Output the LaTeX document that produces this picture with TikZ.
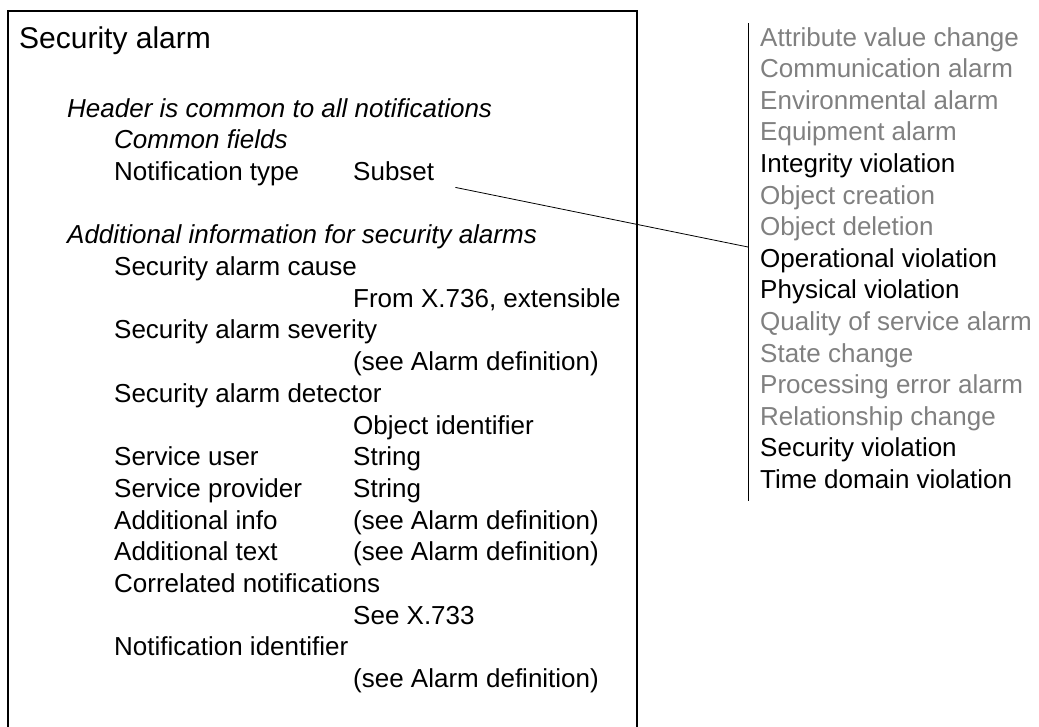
\documentclass[tikz,border=0pt]{standalone}
\usepackage{fontspec}
\setmainfont{Liberation Sans}
\begin{document}
\begin{tikzpicture}[x=1pt,y=-1pt,
  frame/.style={draw=black,line width=1.4pt},
  title/.style={anchor=base west,inner sep=0pt,font=\fontsize{30}{34}\selectfont},
  row/.style={anchor=base west,inner sep=0pt,font=\fontsize{26}{30}\selectfont},
  hdr/.style={row,font=\fontsize{26}{30}\selectfont\itshape},
  item/.style={anchor=base west,inner sep=0pt,font=\fontsize{26}{30}\selectfont,text=black},
  dim/.style={item,text=black!50},
  link/.style={draw=black,line width=0.8pt}]
\useasboundingbox (0,0) rectangle (1039,726);
% outer frame of the notification, open at the bottom
\draw[frame] (8,740) -- (8,11) -- (637,11) -- (637,740);
\node[title] (t) at (19,48) {Security alarm};
% left column: one row every 31.7pt
\def\rowy#1{117+31.7*#1}
\node[hdr] (h1) at (67,{\rowy{0}}) {Header is common to all notifications};
\node[hdr] (h2) at (114,{\rowy{1}}) {Common fields};
\node[row] (r1) at (114,{\rowy{2}}) {Notification type};
\node[row] (subset) at (353,{\rowy{2}}) {Subset};
\node[hdr] (h3) at (67,{\rowy{4}}) {Additional information for security alarms};
\node[row] (r2) at (114,{\rowy{5}}) {Security alarm cause};
\node[row] (v2) at (353,{\rowy{6}}) {From X.736, extensible};
\node[row] (r3) at (114,{\rowy{7}}) {Security alarm severity};
\node[row] (v3) at (353,{\rowy{8}}) {(see Alarm definition)};
\node[row] (r4) at (114,{\rowy{9}}) {Security alarm detector};
\node[row] (v4) at (353,{\rowy{10}}) {Object identifier};
\node[row] (r5) at (114,{\rowy{11}}) {Service user};
\node[row] (v5) at (353,{\rowy{11}}) {String};
\node[row] (r6) at (114,{\rowy{12}}) {Service provider};
\node[row] (v6) at (353,{\rowy{12}}) {String};
\node[row] (r7) at (114,{\rowy{13}}) {Additional info};
\node[row] (v7) at (353,{\rowy{13}}) {(see Alarm definition)};
\node[row] (r8) at (114,{\rowy{14}}) {Additional text};
\node[row] (v8) at (353,{\rowy{14}}) {(see Alarm definition)};
\node[row] (r9) at (114,{\rowy{15}}) {Correlated notifications};
\node[row] (v9) at (353,{\rowy{16}}) {See X.733};
\node[row] (r10) at (114,{\rowy{17}}) {Notification identifier};
\node[row] (v10) at (353,{\rowy{18}}) {(see Alarm definition)};
% list of notification types, with its bracket bar
\coordinate (bt) at (748,23);
\coordinate (bb) at (748,501);
\draw[link] (bt) -- (bb);
\foreach \txt/\sty [count=\i from 0] in {
  Attribute value change/dim, Communication alarm/dim, Environmental alarm/dim,
  Equipment alarm/dim, Integrity violation/item, Object creation/dim,
  Object deletion/dim, Operational violation/item, Physical violation/item,
  Quality of service alarm/dim, State change/dim, Processing error alarm/dim,
  Relationship change/dim, Security violation/item, Time domain violation/item}
  \node[\sty] (l\i) at (760,{46+31.6*\i}) {\txt};
% connector from the subset value to the list
\coordinate (hit) at (748,247);
\coordinate (sub) at ([xshift=21pt,yshift=-7pt]subset.base east);
\draw[link] (sub) -- (hit);
\end{tikzpicture}
\end{document}
